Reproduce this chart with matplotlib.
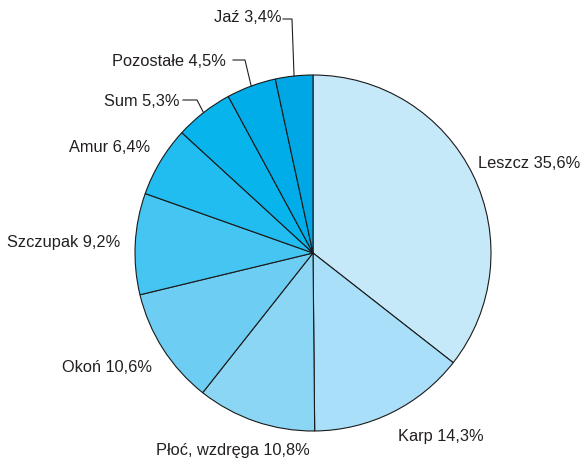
import numpy as np
import matplotlib
matplotlib.use("Agg")
import matplotlib.pyplot as plt

labels = ["Leszcz", "Karp", "Płoć, wzdręga", "Okoń", "Szczupak", "Amur", "Sum", "Pozostałe", "Jaź"]
values = [35.6, 14.3, 10.8, 10.6, 9.2, 6.4, 5.3, 4.5, 3.4]
value_texts = ["35,6%", "14,3%", "10,8%", "10,6%", "9,2%", "6,4%", "5,3%", "4,5%", "3,4%"]
colors = ["#c6e9f9", "#a9dff8", "#8cd6f5", "#6dcdf3", "#45c5f2", "#22bdf0", "#08b4ec", "#00ade9", "#00a7e5"]

W, H = 582, 458
fig = plt.figure(figsize=(W / 100, H / 100), dpi=100)
cx, cy, R = 313, 253, 178
ax = fig.add_axes([(cx - R) / W, 1 - (cy + R) / H, 2 * R / W, 2 * R / H])
ax.pie(values, colors=colors, startangle=90, counterclock=False,
       wedgeprops=dict(edgecolor="#1a1a1a", linewidth=0.8), radius=1.0)
ax.set_xlim(-1, 1)
ax.set_ylim(-1, 1)
ax.axis("off")

plt.rcParams['font.family'] = ['Liberation Sans Narrow', 'Liberation Sans', 'DejaVu Sans']

def P(x, y):
    return (x / W, 1 - y / H)

# label positions (pixel coords: anchor x, y, ha)
pos = {
    "Leszcz": (478, 163, "left"),
    "Karp": (398, 437, "left"),
    "Płoć, wzdręga": (156, 450, "left"),
    "Okoń": (152, 368, "right"),
    "Szczupak": (120, 243, "right"),
    "Amur": (150, 148, "right"),
    "Sum": (180, 102, "right"),
    "Pozostałe": (226, 62, "right"),
    "Jaź": (281, 18, "right"),
}
for lab, vt in zip(labels, value_texts):
    x, y, ha = pos[lab]
    fig.text(*P(x, y), f"{lab} {vt}", ha=ha, va="center", fontsize=11.8, color="#231f20")

# leader lines to wedge midpoints
cum = np.cumsum([0] + values)
total = sum(values)
def edge_point(i):
    mid = (cum[i] + cum[i + 1]) / 2 / total * 360
    ang = np.deg2rad(90 - mid)
    return cx + R * np.cos(ang), cy - R * np.sin(ang)

leaders = {"Jaź": (283, 292, 19), "Pozostałe": (233, 245, 60), "Sum": (183, 197, 100)}
for lab, (x0, x1, y) in leaders.items():
    i = labels.index(lab)
    ex, ey = edge_point(i)
    pts = [P(x0, y), P(x1, y), P(ex, ey)]
    fig.add_artist(plt.Line2D([p[0] for p in pts], [p[1] for p in pts],
                              transform=fig.transFigure, color="#231f20", linewidth=0.8))

fig.savefig("out.png", dpi=100)
